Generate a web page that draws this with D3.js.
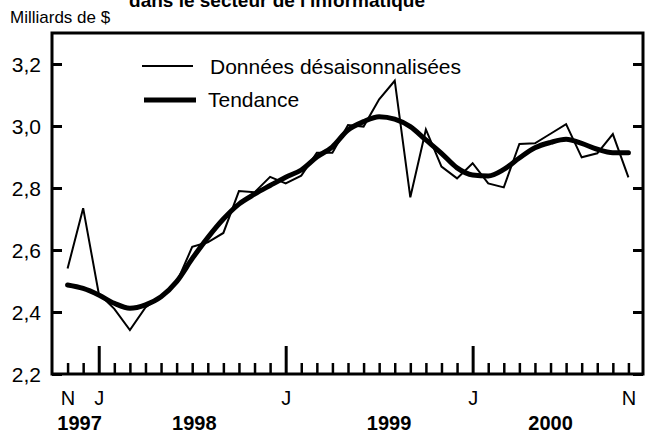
<!DOCTYPE html>
<html>
<head>
<meta charset="utf-8">
<script src="https://cdn.jsdelivr.net/npm/d3@7"></script>
<style>
	body { margin: 0; background: #fff; }
	svg { display: block; font-family: 'Liberation Sans', Arial, sans-serif; }
</style>
</head>
<body>
<div></div>
<script>
// months from Nov 1997 to Nov 2000
const months = ['1997-11', '1997-12',
	'1998-01', '1998-02', '1998-03', '1998-04', '1998-05', '1998-06',
	'1998-07', '1998-08', '1998-09', '1998-10', '1998-11', '1998-12',
	'1999-01', '1999-02', '1999-03', '1999-04', '1999-05', '1999-06',
	'1999-07', '1999-08', '1999-09', '1999-10', '1999-11', '1999-12',
	'2000-01', '2000-02', '2000-03', '2000-04', '2000-05', '2000-06',
	'2000-07', '2000-08', '2000-09', '2000-10', '2000-11'];

const rawValues = [2.54, 2.735, 2.46, 2.41, 2.342, 2.415, 2.45, 2.495, 2.61, 2.625,
	2.655, 2.79, 2.786, 2.836, 2.815, 2.84, 2.914, 2.914, 3.003, 2.998,
	3.086, 3.146, 2.77, 2.989, 2.869, 2.831, 2.88, 2.815, 2.802, 2.942,
	2.944, 2.975, 3.006, 2.899, 2.912, 2.974, 2.834];

const trendValues = [2.487, 2.476, 2.455, 2.428, 2.412, 2.423, 2.449, 2.498, 2.572, 2.64,
	2.70, 2.748, 2.78, 2.808, 2.835, 2.858, 2.90, 2.933, 2.987, 3.014,
	3.03, 3.022, 2.998, 2.955, 2.912, 2.865, 2.842, 2.839, 2.86, 2.897,
	2.93, 2.947, 2.957, 2.944, 2.925, 2.914, 2.914];

const yTicks = [2.2, 2.4, 2.6, 2.8, 3.0, 3.2];
const monthLabels = { '1997-11': 'N', '1998-01': 'J', '1999-01': 'J', '2000-01': 'J', '2000-11': 'N' };
const yearLabels = [['1997', '1997-11-24'], ['1998', '1998-07-05'], ['1999', '1999-07-20'], ['2000', '2000-06-01']];
const seriesNames = ['Données désaisonnalisées', 'Tendance'];

const svgWidth = 645,
	svgHeight = 446;
const plotLeft = 52, plotRight = 644, plotTop = 33, plotBottom = 374;

// month index -> position
const monthIndex = s => {
	const p = s.split('-').map(Number);
	const base = (p[0] - 1997) * 12 + (p[1] - 11);
	return p[2] ? base + (p[2] - 1) / 30 : base;
};

const xScale = d3.scaleLinear().domain([-1, 37]).range([plotLeft, plotRight]);
const yScale = d3.scaleLinear().domain([2.2, 3.3]).range([plotBottom, plotTop]);

const svg = d3.select('body').select('div')
	.append('svg')
	.attr('width', svgWidth)
	.attr('height', svgHeight);

// title (its top is cut off in the source too)
svg.append('text')
	.attr('x', 277).attr('y', 7)
	.attr('text-anchor', 'middle')
	.style('font-size', '19px').style('font-weight', 'bold')
	.text("dans le secteur de l'informatique");

svg.append('text')
	.attr('x', 10).attr('y', 23)
	.style('font-size', '17px')
	.text('Milliards de $');

// y axes
const yAxisLeft = d3.axisLeft(yScale).tickValues(yTicks).tickSize(-10).tickPadding(11)
	.tickFormat(d => d3.format('.1f')(d).replace('.', ','));
const gy = svg.append('g').attr('transform', `translate(${plotLeft}, 0)`).call(yAxisLeft);
gy.select('.domain').remove();
gy.selectAll('line').attr('stroke', '#000').attr('stroke-width', 3);
gy.selectAll('text').style('font-size', '21px').attr('fill', '#000').attr('dy', '0.35em');

const gyr = svg.append('g').attr('transform', `translate(${plotRight - 1}, 0)`)
	.call(d3.axisRight(yScale).tickValues(yTicks).tickSize(-10).tickFormat(''));
gyr.select('.domain').remove();
gyr.selectAll('line').attr('stroke', '#000').attr('stroke-width', 3);

// x axis ticks
const idx = months.map((m, i) => i);
const majors = months.map((m, i) => m.endsWith('-01') ? i : null).filter(d => d !== null);
const minors = idx.filter(i => !majors.includes(i));

const gxMinor = svg.append('g').attr('transform', `translate(0, ${plotBottom})`)
	.call(d3.axisBottom(xScale).tickValues(minors).tickSize(-11).tickFormat(''));
gxMinor.select('.domain').remove();
gxMinor.selectAll('line').attr('stroke', '#000').attr('stroke-width', 2.5);

const gxMajor = svg.append('g').attr('transform', `translate(0, ${plotBottom})`)
	.call(d3.axisBottom(xScale).tickValues(majors).tickSize(-28).tickFormat(''));
gxMajor.select('.domain').remove();
gxMajor.selectAll('line').attr('stroke', '#000').attr('stroke-width', 3);

const labelled = idx.filter(i => monthLabels[months[i]]);
const gxLab = svg.append('g').attr('transform', `translate(0, ${plotBottom})`)
	.call(d3.axisBottom(xScale).tickValues(labelled).tickSize(0).tickPadding(17)
		.tickFormat(i => monthLabels[months[i]]));
gxLab.select('.domain').remove();
gxLab.selectAll('text').style('font-size', '20px').attr('fill', '#000');

svg.append('g').selectAll('text')
	.data(yearLabels)
	.enter()
	.append('text')
	.attr('x', d => xScale(monthIndex(d[1])))
	.attr('y', 430)
	.attr('text-anchor', 'middle')
	.style('font-size', '20px').style('font-weight', 'bold')
	.text(d => d[0]);

// frame
svg.append('rect')
	.attr('x', plotLeft).attr('y', plotTop)
	.attr('width', plotRight - 1 - plotLeft).attr('height', plotBottom - plotTop)
	.attr('fill', 'none').attr('stroke', '#000').attr('stroke-width', 3);

// lines
const rawLine = d3.line().x((d, i) => xScale(i)).y(d => yScale(d));
const trendLine = d3.line().x((d, i) => xScale(i)).y(d => yScale(d)).curve(d3.curveMonotoneX);

svg.append('path')
	.datum(rawValues)
	.attr('d', rawLine)
	.attr('fill', 'none').attr('stroke', '#000').attr('stroke-width', 2)
	.attr('stroke-linejoin', 'miter');

svg.append('path')
	.datum(trendValues)
	.attr('d', trendLine)
	.attr('fill', 'none').attr('stroke', '#000').attr('stroke-width', 5)
	.attr('stroke-linecap', 'round').attr('stroke-linejoin', 'round');

// legend
const legend = svg.append('g');
legend.append('line').attr('x1', 142).attr('x2', 193).attr('y1', 66).attr('y2', 66)
	.attr('stroke', '#000').attr('stroke-width', 2);
legend.append('text').attr('x', 210).attr('y', 74).style('font-size', '21px').text(seriesNames[0]);
legend.append('line').attr('x1', 144).attr('x2', 196).attr('y1', 100).attr('y2', 100)
	.attr('stroke', '#000').attr('stroke-width', 5);
legend.append('text').attr('x', 208).attr('y', 107).style('font-size', '21px').text(seriesNames[1]);
</script>
</body>
</html>
